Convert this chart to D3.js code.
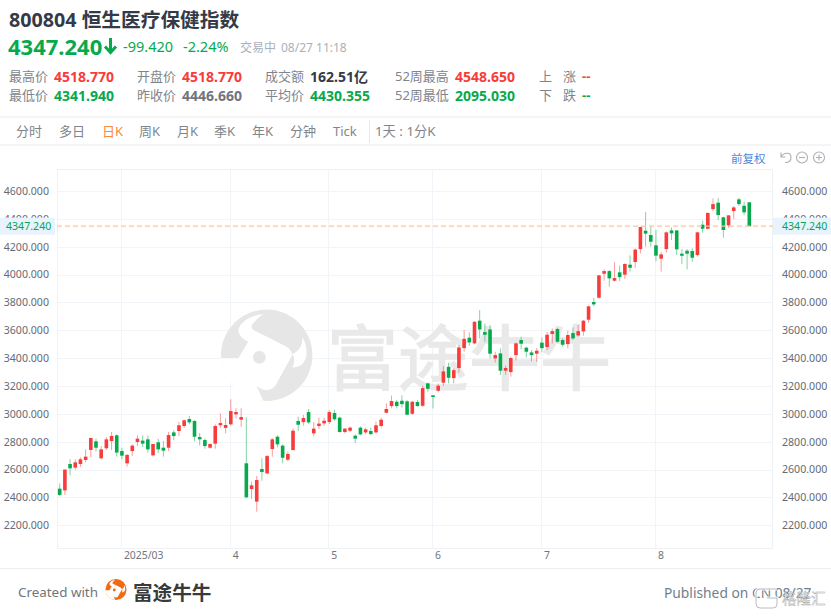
<!DOCTYPE html>
<html><head><meta charset="utf-8">
<script src="https://cdn.jsdelivr.net/npm/d3@7/dist/d3.min.js"></script>
<style>html,body{margin:0;padding:0;background:#fff;overflow:hidden}svg{display:block}
text{font-family:"Noto Sans","Noto Sans CJK SC",sans-serif}</style></head><body>
<svg id="c" width="831" height="616"></svg>
<script>
const opens=[2463,2451,2640,2614,2640,2669,2741,2803,2681,2753,2805,2846,2733,2645,2733,2798,2808,2817,2702,2796,2757,2757,2867,2877,2913,2963,2949,2834,2812,2757,2786,2918,2899,2925,2997,2958,2645,2460,2370,2604,2573,2748,2836,2772,2671,2740,2949,2941,3013,2860,2913,2932,2941,3006,2973,2870,2879,2843,2901,2867,2877,2867,2913,3008,3056,3087,3094,3090,3001,3085,3058,3219,3133,3166,3224,3338,3257,3329,3472,3547,3506,3669,3587,3606,3398,3434,3310,3300,3422,3530,3475,3441,3432,3511,3480,3573,3609,3530,3501,3580,3563,3592,3676,3803,3834,4006,4025,3956,4016,3999,4071,4090,4183,4315,4284,4210,4114,4183,4317,4317,4150,4171,4169,4140,4358,4329,4470,4516,4411,4353,4456,4540,4494,4518.77];
const closes=[2418,2600,2609,2652,2674,2693,2827,2757,2745,2817,2841,2722,2700,2705,2772,2822,2786,2745,2784,2745,2736,2848,2841,2918,2954,2939,2836,2817,2769,2784,2913,2934,2920,3020,3013,2977,2401,2487,2525,2583,2697,2817,2781,2685,2712,2879,2922,2970,2939,2894,2930,2951,3013,2961,2870,2894,2901,2822,2853,2889,2855,2918,2958,3035,3092,3056,3070,2994,3087,3056,3185,3180,3121,3202,3305,3259,3314,3477,3539,3513,3661,3606,3568,3432,3422,3310,3329,3401,3506,3504,3446,3422,3453,3472,3568,3594,3518,3496,3566,3542,3594,3669,3772,3786,3994,4025,3973,3975,3982,4076,4049,4179,4341,4294,4236,4136,4145,4303,4296,4181,4135,4150,4121,4303,4329,4442,4506,4427,4320,4425,4482,4506,4446.66,4347.24];
const highs=[2501,2600,2674,2674,2688,2745,2827,2822,2769,2834,2870,2853,2757,2712,2781,2846,2846,2844,2784,2820,2805,2870,2882,2942,2958,2985,2954,2863,2824,2786,2925,3004,2968,3104,3040,3040,2975,2513,2554,2681,2705,2827,2846,2781,2729,2894,2980,2992,3035,2941,2973,2973,3028,3030,2980,2898,2910,2853,2910,2901,2901,2944,2973,3075,3131,3099,3133,3099,3094,3099,3202,3224,3133,3219,3343,3367,3326,3494,3602,3585,3666,3745,3649,3638,3446,3470,3346,3410,3513,3554,3482,3458,3472,3549,3587,3614,3618,3542,3597,3621,3638,3674,3777,3832,3999,4037,4033,4088,4066,4081,4138,4188,4344,4449,4349,4320,4164,4310,4339,4320,4183,4183,4188,4308,4387,4447,4547,4549,4415,4427,4492,4552,4523,4518.77];
const lows=[2410,2418,2559,2600,2619,2652,2688,2731,2671,2741,2741,2693,2674,2621,2698,2769,2762,2722,2693,2717,2693,2733,2812,2841,2899,2925,2803,2774,2750,2750,2750,2899,2860,2915,2968,2908,2393,2389,2298,2520,2566,2693,2760,2645,2661,2740,2877,2915,2927,2839,2891,2915,2927,2951,2865,2860,2870,2791,2846,2851,2848,2860,2901,3004,3040,3040,3046,2991,2991,3051,3051,3159,3039,3154,3200,3219,3219,3295,3446,3489,3501,3542,3518,3396,3369,3279,3281,3267,3384,3463,3405,3377,3374,3446,3458,3506,3511,3482,3470,3530,3554,3561,3655,3772,3827,3956,3913,3951,3954,3968,4021,4049,4152,4200,4200,4095,4021,4157,4248,4140,4076,4037,4092,4128,4300,4324,4458,4391,4265,4336,4399,4492,4427,4341.94];
const yTicks=[4600,4400,4200,4000,3800,3600,3400,3200,3000,2800,2600,2400,2200];
const monthStarts=[12,33,52,72,93,115];
const monthLabels=["2025/03","4","5","6","7","8"];
const lastPrice=4347.24;
const tabs=["分时","多日","日K","周K","月K","季K","年K","分钟","Tick"];
const tabXs=[16,59,102,139,177,214,252,290,333];
const RED="#f73c3c",GREEN="#06aa4c",GRAY="#70757d",GRID="#f1f4f9";
const svg=d3.select("#c");
const x=d3.scaleLinear().domain([0,opens.length-1]).range([59.7,749.3]);
const y=d3.scaleLinear().domain([2200,4600]).range([525.3,191]);
const L=57,R=773,T=169,B=549;
function t(txt,px,py,o={}){return svg.append("text").attr("x",px).attr("y",py).attr("dominant-baseline","central")
 .attr("text-anchor",o.a||"start").attr("font-size",o.s||13).attr("font-weight",o.w||400).attr("fill",o.c||GRAY).text(txt);}
// header
t("800804 恒生医疗保健指数",9,19,{s:19.7,w:700,c:"#343a46"});
t("4347.240",8,46,{s:22,w:700,c:GREEN});
svg.append("path").attr("d","M110.5,38V52M105,46.5L110.5,52.5L116,46.5").attr("stroke",GREEN).attr("stroke-width",3).attr("fill","none");
t("-99.420",123,46,{s:14.5,c:GREEN});t("-2.24%",183,46,{s:14.5,c:GREEN});
t("交易中",240,47,{s:12,c:"#aab0b8"});t("08/27 11:18",281,47,{s:12,c:"#aab0b8"});
const rows=[[9,"最高价",54,"4518.770",RED,76],[137,"开盘价",182,"4518.770",RED,76],[265,"成交额",310,"162.51亿","#343a46",76],[395,"52周最高",455,"4548.650",RED,76],
[9,"最低价",54,"4341.940",GREEN,95],[137,"昨收价",182,"4446.660",GRAY,95],[265,"平均价",310,"4430.355",GREEN,95],[395,"52周最低",455,"2095.030",GREEN,95]];
rows.forEach(r=>{t(r[1],r[0],r[5],{s:13,c:"#80858d"});t(r[3],r[2],r[5],{s:14,w:700,c:r[4]});});
t("上",539,76,{c:"#80858d"});t("涨",563,76,{c:"#80858d"});t("--",582,76,{w:700,c:RED});
t("下",539,95,{c:"#80858d"});t("跌",563,95,{c:"#80858d"});t("--",582,95,{w:700,c:GREEN});
svg.append("rect").attr("x",0).attr("y",116).attr("width",831).attr("height",2).attr("fill","#f5f5f5");
svg.append("rect").attr("x",0).attr("y",144).attr("width",831).attr("height",2).attr("fill","#f5f5f5");
tabs.forEach((s,i)=>t(s,tabXs[i],131,{s:13,c:s==="日K"?"#f98a3c":"#80858d"}));
svg.append("line").attr("x1",369.5).attr("x2",369.5).attr("y1",120).attr("y2",143).attr("stroke","#e8e8e8");
t("1天 : 1分K",375,131,{s:13.3,c:"#80858d"});
t("前复权",731,158,{s:11.5,c:"#4a86e0"});
svg.append("path").attr("d","M781,152.5V157H785.5M781,157C784,152 791,152 791,157.5C791,161 788,162.5 785,162.5").attr("fill","none").attr("stroke","#aab0b8").attr("stroke-width",1.1);
[802,819].forEach((cx,i)=>{svg.append("circle").attr("cx",cx).attr("cy",157.5).attr("r",5.5).attr("fill","none").attr("stroke","#aab0b8").attr("stroke-width",1.1);
 svg.append("path").attr("d",`M${cx-3},157.5H${cx+3}`+(i?`M${cx},154.5V160.5`:"")).attr("stroke","#aab0b8").attr("stroke-width",1.1);});
// grid
const gg=svg.append("g");
gg.selectAll(".h").data(yTicks).join("line").attr("x1",L).attr("x2",R).attr("y1",d=>Math.round(y(d))+.5).attr("y2",d=>Math.round(y(d))+.5).attr("stroke",GRID);
gg.selectAll(".v").data(monthStarts).join("line").attr("y1",T).attr("y2",B).attr("x1",d=>Math.round(x(d))-.5).attr("x2",d=>Math.round(x(d))-.5).attr("stroke",GRID);
gg.append("path").attr("d",`M${L+.5},${T}V${B-.5}H${R-.5}V${T}M${L},${T+.5}H${R}`).attr("fill","none").attr("stroke","#eef1f6");
// watermark
const LOGO_W="M145,28C112,30 76,48 70,75C72,95 88,105 100,110L70,160L10,160L10,300L150,300L125,243C150,262 170,258 182,240L232,150C228,135 222,130 215,125L115,75C107,68 108,60 115,55C125,42 135,33 145,28Z";
const LOGO_H="M262,97C263,122 252,140 232,147C240,160 238,175 232,187C255,187 268,178 275,150C275,128 270,108 262,97Z";
function logo(cx,cy,r,col){const s=r/137,g=svg.append("g").attr("transform",`translate(${cx},${cy}) scale(${s}) translate(-155,-151)`);
 const cid="cl"+Math.round(cx);
 g.append("clipPath").attr("id",cid).append("circle").attr("cx",155).attr("cy",151).attr("r",137.5);
 g.append("circle").attr("cx",155).attr("cy",151).attr("r",137).attr("fill",col);
 g.append("path").attr("d",LOGO_W).attr("fill","#fff").attr("clip-path",`url(#${cid})`);
 g.append("path").attr("d",LOGO_H).attr("fill","#fff");
 g.append("circle").attr("cx",133).attr("cy",157).attr("r",19).attr("fill",col);}
logo(266.7,355.3,45.7,"#e6e6e6");
t("富途牛牛",327,356,{s:71,c:"#e9e9e9",w:400}).attr("font-family","Noto Sans CJK SC").attr("stroke","#e9e9e9").attr("stroke-width",1.4);
// axes
const fmt=d3.format(".3f");
const AXF='Roboto,"Noto Sans",sans-serif';
[[d3.axisLeft(y),49],[d3.axisRight(y),782]].forEach(([a,px])=>{
 const ax=svg.append("g").attr("transform",`translate(${px},0)`).call(a.tickValues(yTicks).tickSize(0).tickPadding(0).tickFormat(fmt));
 ax.select(".domain").remove();
 ax.selectAll("text").attr("font-size",10.6).attr("fill","#666b73").attr("font-family",AXF);
});
const xa=d3.axisBottom(d3.scaleLinear().domain(x.domain()).range(x.range())).tickValues(monthStarts).tickSize(0).tickPadding(0).tickFormat((d,i)=>monthLabels[i]);
const xg=svg.append("g").attr("transform",`translate(0,552)`).call(xa);
xg.select(".domain").remove();
xg.selectAll("text").attr("font-size",10.4).attr("fill","#70757d").attr("text-anchor","start").attr("dx",1.5).attr("font-family",AXF);
// candles
const idx=d3.range(opens.length),col=i=>closes[i]>=opens[i]?RED:GREEN;
svg.append("g").selectAll("line").data(idx).join("line").attr("x1",x).attr("x2",x).attr("y1",i=>y(highs[i])).attr("y2",i=>y(lows[i])).attr("stroke",col).attr("stroke-width",1).attr("stroke-opacity",.5);
svg.append("g").selectAll("rect").data(idx).join("rect").attr("x",i=>x(i)-1.8).attr("width",3.6)
 .attr("y",i=>y(Math.max(opens[i],closes[i]))).attr("height",i=>Math.max(1.5,Math.abs(y(opens[i])-y(closes[i])))).attr("fill",col);
// last price
const py=y(lastPrice);
svg.append("line").attr("x1",L).attr("x2",R).attr("y1",py).attr("y2",py).attr("stroke","#fbc69c").attr("stroke-width",1.2).attr("stroke-dasharray","5 3");
[[0,55,6],[773,58,782]].forEach(([bx,bw,tx])=>{svg.append("rect").attr("x",bx).attr("y",py-8.5).attr("width",bw).attr("height",17).attr("fill","#e8f3fd");
 t(fmt(lastPrice),tx,py,{s:10.6,c:"#0aa552"}).attr("font-family",AXF);});
// footer
svg.append("rect").attr("x",0).attr("y",568).attr("width",831).attr("height",1).attr("fill","#eceef2");
t("Created with",18,592,{s:13.4,c:"#70757d"});
logo(116,589.5,10.5,"#f26a13");
t("富途牛牛",133,592,{s:19.6,w:700,c:"#3a3a3a"}).attr("font-family","Noto Sans CJK SC");
t("Published on CN 08/27",664,592,{s:13.8,c:"#70808f"});
const wm=svg.append("g").attr("opacity",.9);
const G="M777,589H760Q756,589 756,593V604Q756,608 760,608H773Q777,608 777,604V598H767";
wm.append("path").attr("d",G).attr("fill","none").attr("stroke","#fff").attr("stroke-width",3);
wm.append("path").attr("d",G).attr("fill","none").attr("stroke","#a0a5aa").attr("stroke-width",.8);
wm.append("text").attr("x",782).attr("y",598).attr("dominant-baseline","central").attr("font-size",14.5).attr("fill","#f2f2f2").attr("stroke","#999").attr("stroke-width",.4).attr("font-family","Noto Sans CJK SC").text("格隆汇");
</script></body></html>
